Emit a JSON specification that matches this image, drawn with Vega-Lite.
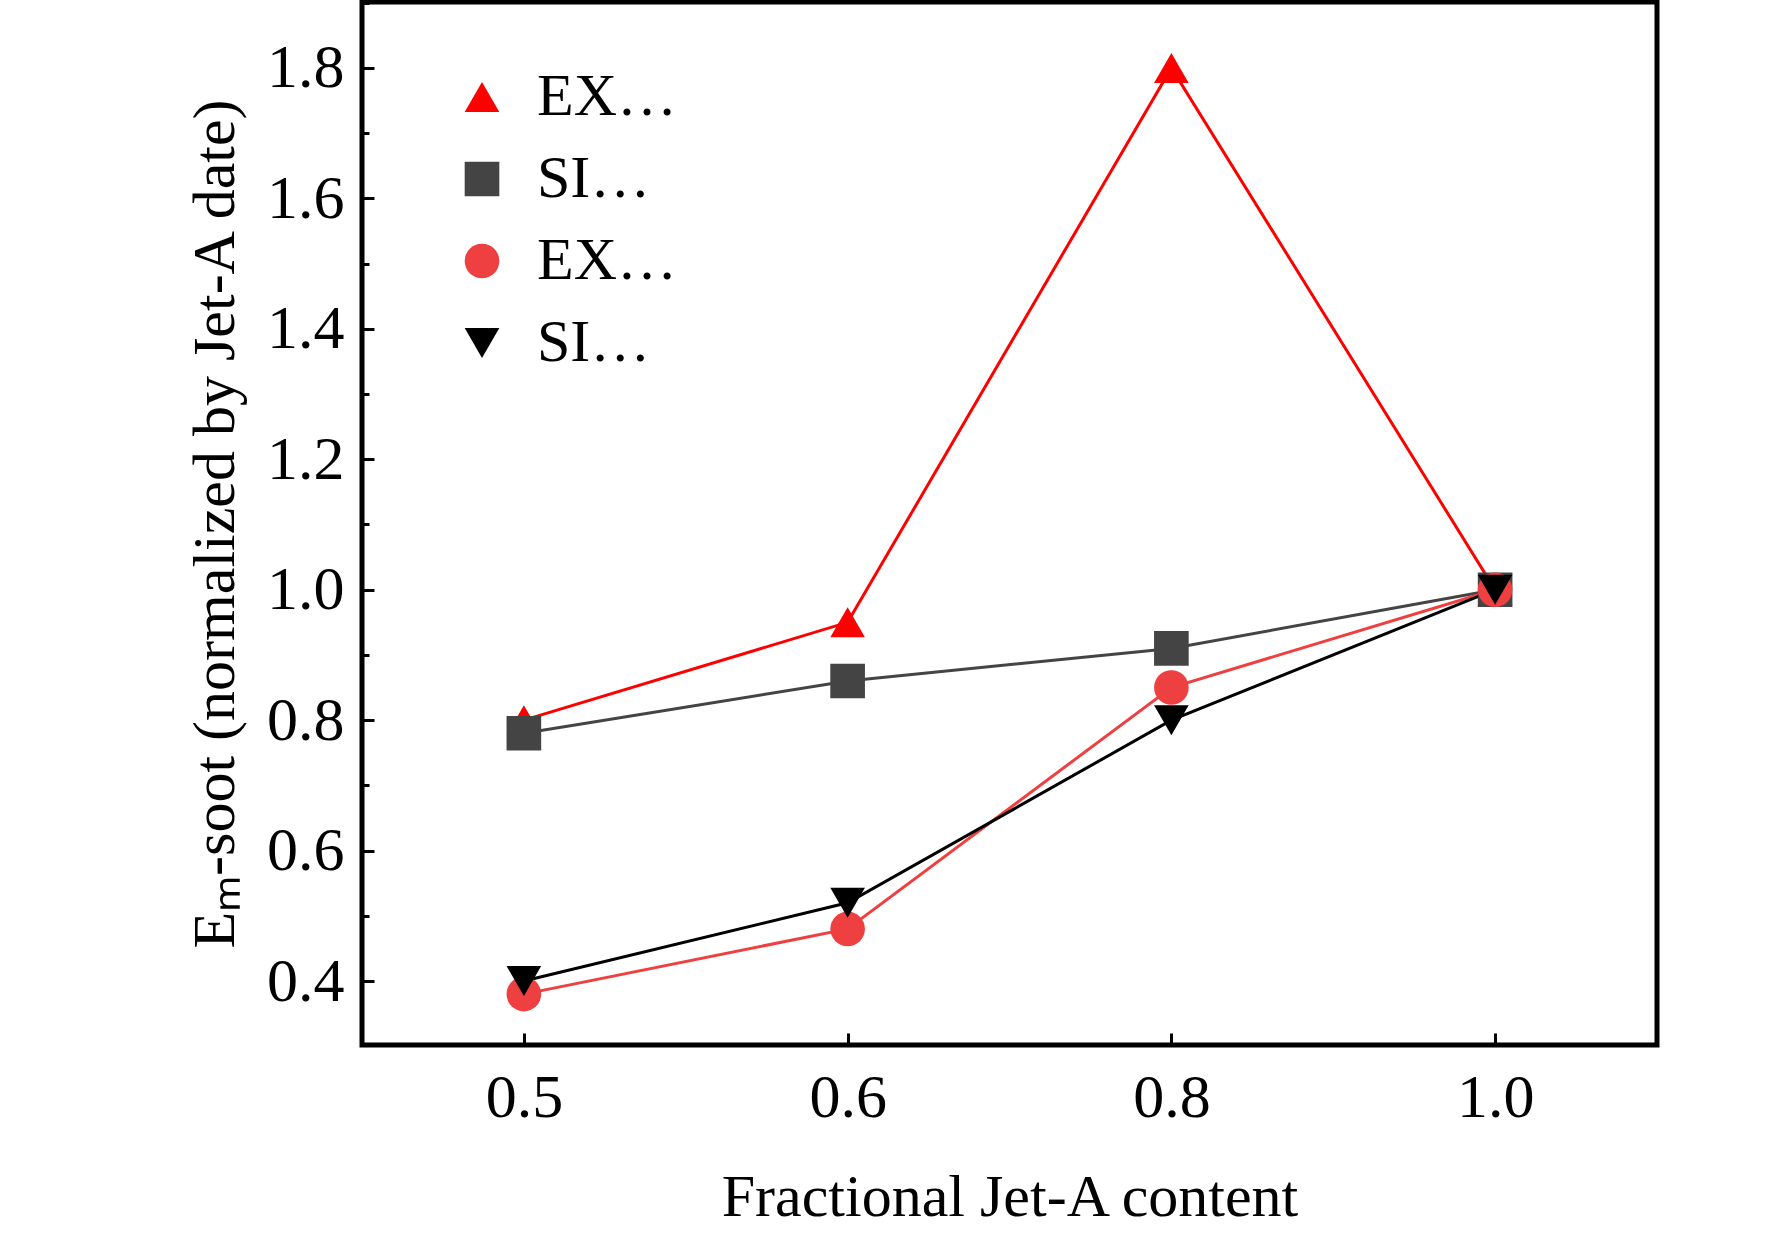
{
  "$schema": "https://vega.github.io/schema/vega-lite/v6.json",
  "autosize": "none",
  "width": 1295,
  "height": 1043,
  "padding": {"left": 362, "top": 2, "right": 115, "bottom": 198},
  "background": "white",
  "config": {
    "view": {"stroke": "black", "strokeWidth": 5},
    "font": "Liberation Serif",
    "axis": {"domain": false, "grid": false, "tickColor": "black", "tickWidth": 3, "labelColor": "black", "titleColor": "black", "labelFont": "Liberation Serif", "titleFont": "Liberation Serif", "labelFontSize": 62, "titleFontSize": 60, "titleFontWeight": "normal"},
    "legend": {"labelFontSize": 60, "labelFont": "Liberation Serif", "labelColor": "black", "symbolSize": 1200, "rowPadding": 22, "labelOffset": 25, "symbolStrokeWidth": 0}
  },
  "data": {"values": [
    {"x": "0.5", "v": 0.80, "s": "EXP take off"},
    {"x": "0.6", "v": 0.95, "s": "EXP take off"},
    {"x": "0.8", "v": 1.80, "s": "EXP take off"},
    {"x": "1.0", "v": 1.00, "s": "EXP take off"},
    {"x": "0.5", "v": 0.78, "s": "SIM take off"},
    {"x": "0.6", "v": 0.86, "s": "SIM take off"},
    {"x": "0.8", "v": 0.91, "s": "SIM take off"},
    {"x": "1.0", "v": 1.00, "s": "SIM take off"},
    {"x": "0.5", "v": 0.38, "s": "EXP idle"},
    {"x": "0.6", "v": 0.48, "s": "EXP idle"},
    {"x": "0.8", "v": 0.85, "s": "EXP idle"},
    {"x": "1.0", "v": 1.00, "s": "EXP idle"},
    {"x": "0.5", "v": 0.40, "s": "SIM idle"},
    {"x": "0.6", "v": 0.52, "s": "SIM idle"},
    {"x": "0.8", "v": 0.80, "s": "SIM idle"},
    {"x": "1.0", "v": 1.00, "s": "SIM idle"}
  ]},
  "resolve": {"scale": {"y": "independent"}, "axis": {"y": "independent"}},
  "layer": [
    {
      "mark": {"type": "line", "strokeWidth": 3},
      "encoding": {
        "x": {"field": "x", "type": "ordinal", "scale": {"type": "point", "padding": 0.5}, "axis": {"title": "Fractional Jet-A content", "labelAngle": 0, "tickSize": -12, "labelPadding": 34, "titlePadding": 40}},
        "y": {"field": "v", "type": "quantitative", "scale": {"domain": [0.302, 1.901], "nice": false, "zero": false}, "axis": {"title": "Eₘ-soot (normalized by Jet-A date)", "values": [0.4, 0.6, 0.8, 1.0, 1.2, 1.4, 1.6, 1.8], "format": ".1f", "tickSize": -12, "labelPadding": 30, "titlePadding": 20}},
        "color": {"field": "s", "type": "nominal", "scale": {"domain": ["EXP take off", "SIM take off", "EXP idle", "SIM idle"], "range": ["#ff0000", "#444444", "#ee4040", "#000000"]}, "legend": {"orient": "none", "legendX": 90, "legendY": 65, "title": null}},
        "shape": {"field": "s", "type": "nominal", "scale": {"domain": ["EXP take off", "SIM take off", "EXP idle", "SIM idle"], "range": ["triangle-up", "square", "circle", "triangle-down"]}, "legend": {"orient": "none", "legendX": 90, "legendY": 65, "title": null}}
      }
    },
    {
      "mark": {"type": "point", "filled": true, "size": 1200, "opacity": 1},
      "encoding": {
        "x": {"field": "x", "type": "ordinal"},
        "y": {"field": "v", "type": "quantitative", "scale": {"domain": [0.302, 1.901], "nice": false, "zero": false}, "axis": {"values": [0.5, 0.7, 0.9, 1.1, 1.3, 1.5, 1.7, 1.9], "labels": false, "title": null, "tickSize": -7, "orient": "left"}},
        "color": {"field": "s", "type": "nominal", "legend": {"orient": "none", "legendX": 90, "legendY": 65, "title": null}},
        "shape": {"field": "s", "type": "nominal", "legend": {"orient": "none", "legendX": 90, "legendY": 65, "title": null}}
      }
    }
  ]
}
